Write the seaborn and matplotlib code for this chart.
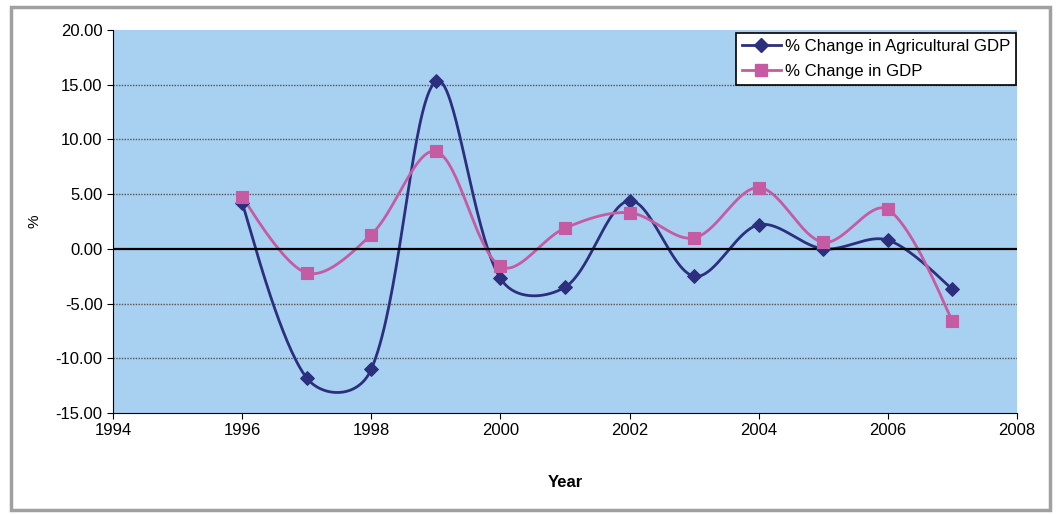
import numpy as np
import pandas as pd
import seaborn as sns
import matplotlib
matplotlib.use("Agg")
import matplotlib.pyplot as plt
from matplotlib.patches import Rectangle
from matplotlib.lines import Line2D

years = [1996, 1997, 1998, 1999, 2000, 2001, 2002, 2003, 2004, 2005, 2006, 2007]
agri_gdp = [4.2, -11.8, -11.0, 15.3, -2.7, -3.5, 4.4, -2.5, 2.2, 0.0, 0.8, -3.7]
gdp = [4.75, -2.2, 1.3, 8.9, -1.6, 1.9, 3.3, 1.0, 5.6, 0.6, 3.6, -6.6]
series_names = ["% Change in Agricultural GDP", "% Change in GDP"]
y_ticks = [-15, -10, -5, 0, 5, 10, 15, 20]
x_ticks = [1994, 1996, 1998, 2000, 2002, 2004, 2006, 2008]

NAVY = "#2B2F7E"
MAGENTA = "#C45BA3"
BG = "#A8D0F0"


def smooth(ax, xs, ys, n=40):
    # Excel-like smoothed line: Bezier segments computed in screen space
    pts = ax.transData.transform(np.column_stack([xs, ys]))
    P = np.vstack([pts[0], pts, pts[-1]])
    t = np.linspace(0, 1, n)[:, None]
    out = []
    for i in range(1, len(P) - 2):
        p0, p1, p2, p3 = P[i - 1], P[i], P[i + 1], P[i + 2]
        d01 = np.linalg.norm(p1 - p0); d12 = np.linalg.norm(p2 - p1); d23 = np.linalg.norm(p3 - p2)
        f1 = d12 / (d01 + d12) / 3 if d01 + d12 > 0 else 0
        f2 = d12 / (d12 + d23) / 3 if d12 + d23 > 0 else 0
        f1 = 0.6 * f1 + 0.4 / 6 if d01 > 0 else 1 / 6 * 0.5
        f2 = 0.6 * f2 + 0.4 / 6 if d23 > 0 else 1 / 6 * 0.5
        c1 = p1 + (p2 - p0) * f1
        c2 = p2 - (p3 - p1) * f2
        b = (1 - t) ** 3 * p1 + 3 * (1 - t) ** 2 * t * c1 + 3 * (1 - t) * t ** 2 * c2 + t ** 3 * p2
        out.append(b)
    out = np.vstack(out)
    d = ax.transData.inverted().transform(out)
    return d[:, 0], d[:, 1]

plt.rcParams['font.family'] = ['Liberation Sans', 'DejaVu Sans']

fig = plt.figure(figsize=(10.59, 5.14), dpi=100)
ax = fig.add_axes([113 / 1059, 1 - 413 / 514, (1017 - 113) / 1059, (413 - 30) / 514])

# outer frame
fig.patches.append(Rectangle((11 / 1059, 4 / 514), 1039 / 1059, 503 / 514, transform=fig.transFigure,
                             fill=False, edgecolor="#A0A0A0", linewidth=2.5))

ax.set_facecolor(BG)
ax.set_xlim(1994, 2008)
ax.set_ylim(-15, 20)

for name, vals, col, mk, ms in [(series_names[0], agri_gdp, NAVY, "D", 7),
                               (series_names[1], gdp, MAGENTA, "s", 8)]:
    sx, sy = smooth(ax, years, vals)
    sns.lineplot(x=sx, y=sy, ax=ax, color=col, linewidth=2, sort=False, estimator=None)
    sns.scatterplot(x=years, y=vals, ax=ax, color=col, marker=mk, s=ms ** 2,
                    edgecolor=col, linewidth=0.8, zorder=5)

ax.axhline(0, color="black", linewidth=1.6, zorder=3)
for yv in y_ticks:
    if yv not in (0, -15, 20):
        ax.axhline(yv, color="#555555", linewidth=1, linestyle=(0, (1, 1)), zorder=1)

ax.set_xlim(1994, 2008)
ax.set_ylim(-15, 20)
ax.set_xticks(x_ticks)
ax.set_yticks(y_ticks)
ax.set_yticklabels([f"{v:.2f}" for v in y_ticks])
ax.tick_params(labelsize=12, length=4, color="black")
for s in ["top", "right"]:
    ax.spines[s].set_visible(False)
ax.spines["left"].set_color("black")
ax.spines["bottom"].set_color("black")
ax.set_xlabel("Year", fontsize=12, fontweight="bold", labelpad=26)
ax.set_ylabel("%", fontsize=11, labelpad=10)

handles = [Line2D([], [], color=NAVY, marker="D", markersize=7, linewidth=2),
           Line2D([], [], color=MAGENTA, marker="s", markersize=8, linewidth=2)]
leg = ax.legend(handles, series_names, loc="upper right", bbox_to_anchor=(0.999, 0.992),
                fontsize=12.1, frameon=True, fancybox=False, edgecolor="black",
                framealpha=1, borderpad=0.35, labelspacing=0.6, handlelength=2.3,
                handletextpad=0.25, borderaxespad=0)
leg.get_frame().set_linewidth(1.2)

fig.savefig("out.png", dpi=100)
